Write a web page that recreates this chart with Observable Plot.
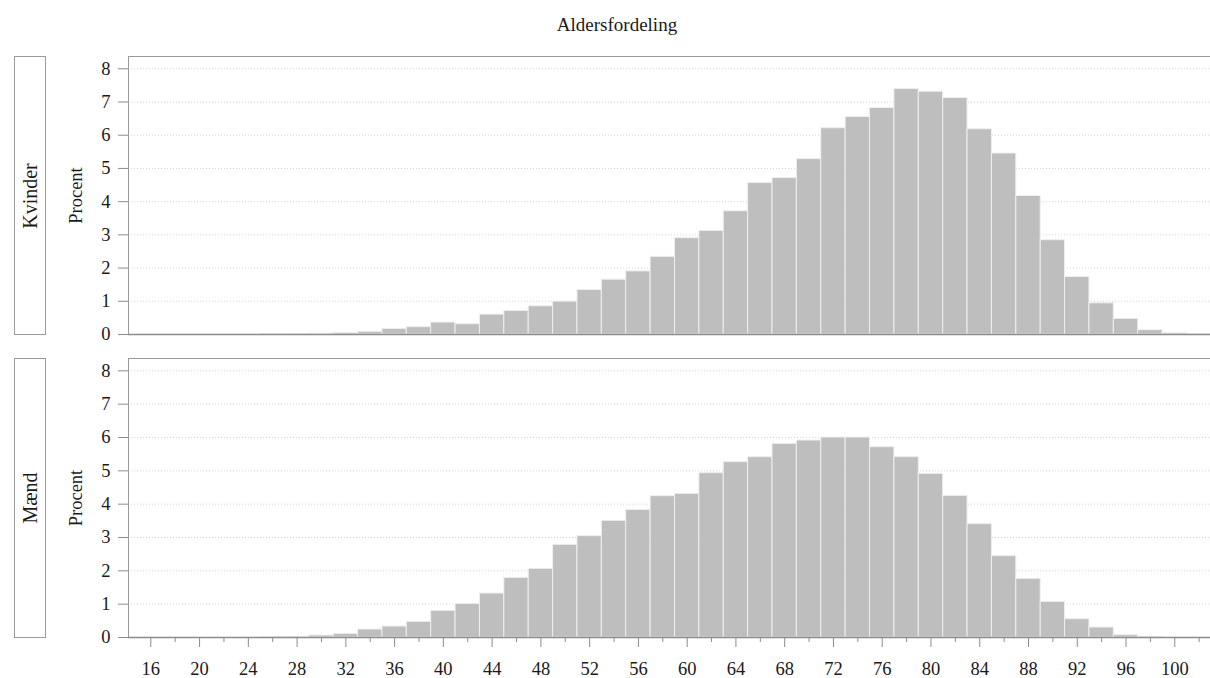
<!DOCTYPE html>
<html>
<head>
<meta charset="utf-8">
<script src="https://cdn.jsdelivr.net/npm/d3@7"></script>
<script src="https://cdn.jsdelivr.net/npm/@observablehq/plot@0.6"></script>
<style>
  body { margin: 0; background: #fff; }
  #wrap { position: relative; width: 1210px; height: 678px; overflow: hidden; font-family: "Liberation Serif", serif; color: #1a1a1a; background: #fff; }
  .title { position: absolute; left: 417px; width: 400px; top: 15px; text-align: center; font-size: 19px; line-height: 19px; }
  .strip { position: absolute; left: 14px; width: 32px; border: 1px solid #9a9a9a; box-sizing: border-box; background: #fff; }
  .strip span { position: absolute; left: 50%; top: 50%; transform: translate(-50%, -50%) rotate(-90deg); white-space: nowrap; font-size: 20px; line-height: 20px; }
  .panel { position: absolute; left: 0; }
  .panel text { font-family: "Liberation Serif", serif !important; font-size: 18.5px; }
</style>
</head>
<body>
<div id="wrap"></div>
<script>
// Bin centres (years), 2-year bins
const ages = [16, 18, 20, 22, 24, 26, 28, 30, 32, 34, 36, 38, 40, 42, 44, 46, 48, 50, 52, 54, 56, 58,
              60, 62, 64, 66, 68, 70, 72, 74, 76, 78, 80, 82, 84, 86, 88, 90, 92, 94, 96, 98, 100, 102];
// Percent per bin
const kvinder = [0, 0, 0, 0, 0, 0.005, 0.01, 0.03, 0.05, 0.08, 0.17, 0.22, 0.36, 0.31, 0.60, 0.71, 0.85, 0.99, 1.34, 1.65, 1.90, 2.34,
                 2.90, 3.12, 3.71, 4.56, 4.71, 5.28, 6.21, 6.55, 6.82, 7.39, 7.31, 7.12, 6.18, 5.45, 4.17, 2.84, 1.73, 0.94, 0.47, 0.13, 0.04, 0.01];
const maend   = [0, 0, 0, 0, 0, 0.005, 0.02, 0.06, 0.11, 0.24, 0.33, 0.47, 0.80, 1.01, 1.32, 1.79, 2.06, 2.78, 3.04, 3.50, 3.83, 4.24,
                 4.31, 4.93, 5.26, 5.41, 5.81, 5.91, 6.00, 6.00, 5.71, 5.41, 4.91, 4.25, 3.40, 2.44, 1.76, 1.07, 0.55, 0.30, 0.07, 0.01, 0, 0];
const panelNames = ["Kvinder", "Mænd"];
const yTicks = [0, 1, 2, 3, 4, 5, 6, 7, 8];
const xMajorTicks = [16, 20, 24, 28, 32, 36, 40, 44, 48, 52, 56, 60, 64, 68, 72, 76, 80, 84, 88, 92, 96, 100];
const xMinorTicks = [18, 22, 26, 30, 34, 38, 42, 46, 50, 54, 58, 62, 66, 70, 74, 78, 82, 86, 90, 94, 98, 102];
const titleText = "Aldersfordeling";
const yLabel = "Procent";

const xDomain = [14.17, 102.93];
const yDomain = [0, 8.37];
const font = "Liberation Serif";

function makePanel(values, showX, layout) {
  const data = ages.map((a, i) => ({x1: a - 1, x2: a + 1, pct: values[i]})).filter(d => d.pct > 0);
  const marks = [
    Plot.gridY(yTicks.filter(v => v > 0), {stroke: "#d4d4d4", strokeOpacity: 1, strokeDasharray: "1,2", strokeWidth: 1}),
    Plot.rectY(data, {x1: "x1", x2: "x2", y: "pct", fill: "#bebebe", stroke: "#efefef", strokeWidth: 1, clip: true}),
    Plot.ruleY([yDomain[1]], {stroke: "#9a9a9a", strokeWidth: 1}),
    Plot.ruleX([xDomain[0]], {stroke: "#9a9a9a", strokeWidth: 1}),
    Plot.ruleY([0], {stroke: "#8c8c8c", strokeWidth: 1.6}),
    Plot.axisY(yTicks, {tickSize: 10, tickPadding: 8, fontSize: 18.5, stroke: "#8c8c8c", fill: "#1a1a1a",
                        label: yLabel, labelAnchor: "center", labelOffset: 60, labelArrow: "none"})
  ];
  if (showX) {
    marks.push(Plot.axisX(xMajorTicks, {tickSize: 10, tickPadding: 14, fontSize: 18.5, stroke: "#8c8c8c", fill: "#1a1a1a",
                                        label: null, tickFormat: d => String(d)}));
    marks.push(Plot.axisX(xMinorTicks, {tickSize: 5, stroke: "#8c8c8c", label: null, tickFormat: () => ""}));
  }
  return Plot.plot({
    width: 1210,
    height: layout.height,
    marginLeft: 128,
    marginRight: 0,
    marginTop: layout.marginTop,
    marginBottom: layout.marginBottom,
    style: {fontFamily: font, fontSize: "18.5px", color: "#1a1a1a", background: "transparent"},
    x: {domain: xDomain, axis: showX ? undefined : null},
    y: {domain: yDomain},
    marks
  });
}

const wrap = document.getElementById("wrap");
const title = document.createElement("div");
title.className = "title";
title.textContent = titleText;
wrap.appendChild(title);

const layouts = [
  {top: 0, height: 345, marginTop: 56, marginBottom: 11},
  {top: 345, height: 333, marginTop: 13, marginBottom: 41}
];
[kvinder, maend].forEach((vals, i) => {
  const L = layouts[i];
  const svg = makePanel(vals, i === 1, L);
  svg.classList.add("panel");
  svg.style.top = L.top + "px";
  wrap.appendChild(svg);
  const strip = document.createElement("div");
  strip.className = "strip";
  strip.style.top = (L.top + L.marginTop) + "px";
  strip.style.height = (L.height - L.marginTop - L.marginBottom + 1) + "px";
  const span = document.createElement("span");
  span.textContent = panelNames[i];
  strip.appendChild(span);
  wrap.appendChild(strip);
});
</script>
</body>
</html>
